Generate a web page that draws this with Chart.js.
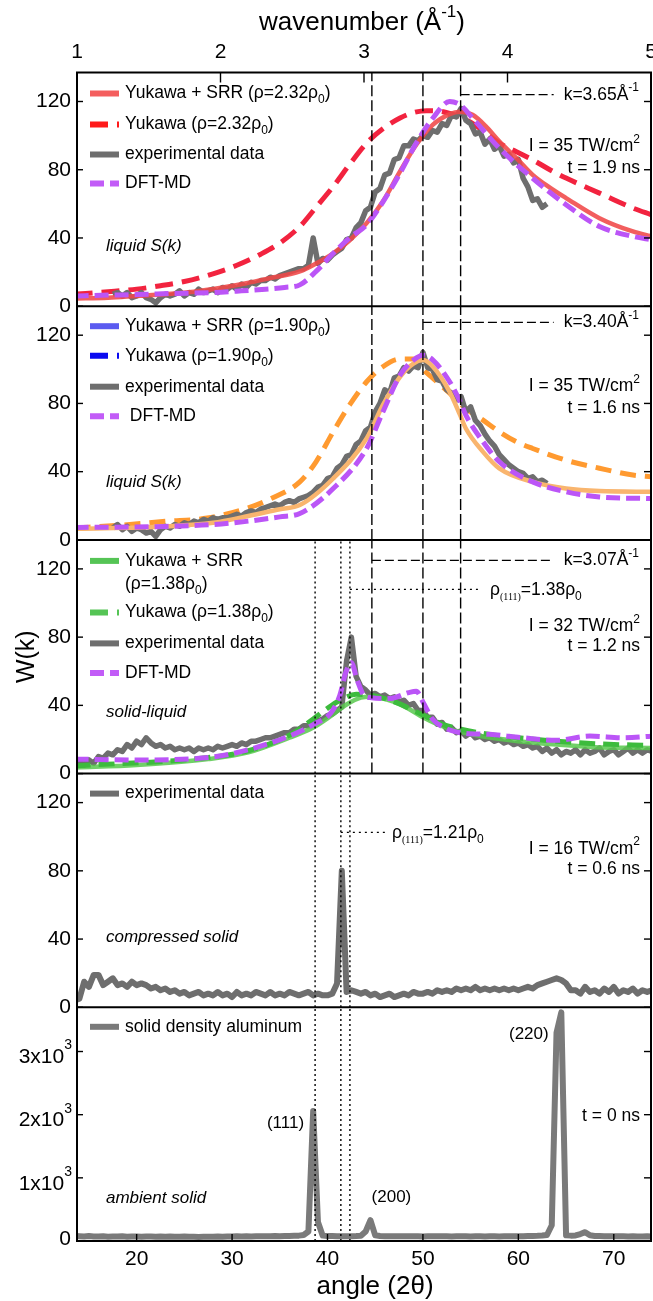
<!DOCTYPE html>
<html>
<head>
<meta charset="utf-8">
<script src="https://cdn.jsdelivr.net/npm/chart.js@4.4.1/dist/chart.umd.min.js"></script>
<style>
  html, body { margin: 0; padding: 0; background: #fff; }
  #chart { display: block; width: 653px; height: 1301px; }
</style>
</head>
<body>
<canvas id="chart" width="653" height="1301"></canvas>
<script>
// Axis ticks
const angleTicks = [20, 30, 40, 50, 60, 70];
const kTicks = [1, 2, 3, 4, 5];
const wTicks = [0, 40, 80, 120];
const ambTicks = [0, 1000, 2000, 3000];
const ambTickMant = ['0', '1x10', '2x10', '3x10'];

// Reference lines (in angle 2θ)
const kLineAngles = [44.65, 50.0, 53.95];      // k = 3.07, 3.40, 3.65
const kLineLabels = ['3.07', '3.40', '3.65'];
const braggAngles = [38.7, 41.4, 42.35];
const kMarkW = [125, 127.5, 124];               // panel 3, 2, 1 marker heights
const kMarkEnd = 63.7;
const rhoMarkStart = [42.35, 41.4];
const rhoMarkEnd = [56.1, 46.1];
const rhoMarkW = [108, 102.6];

// Common angle grid of the measured curves
const gridAngle = [
  13.5, 14, 14.5, 15, 15.5, 16, 16.5, 17, 17.5, 18,
  18.5, 19, 19.5, 20, 20.5, 21, 21.5, 22, 22.5, 23,
  23.5, 24, 24.5, 25, 25.5, 26, 26.5, 27, 27.5, 28,
  28.5, 29, 29.5, 30, 30.5, 31, 31.5, 32, 32.5, 33,
  33.5, 34, 34.5, 35, 35.5, 36, 36.5, 37, 37.5, 38,
  38.5, 39, 39.5, 40, 40.5, 41, 41.5, 42, 42.5, 43,
  43.5, 44, 44.5, 45, 45.5, 46, 46.5, 47, 47.5, 48,
  48.5, 49, 49.5, 50, 50.5, 51, 51.5, 52, 52.5, 53,
  53.5, 54, 54.5, 55, 55.5, 56, 56.5, 57, 57.5, 58,
  58.5, 59, 59.5, 60, 60.5, 61, 61.5, 62, 62.5, 63,
  63.5, 64, 64.5, 65, 65.5, 66, 66.5, 67, 67.5, 68,
  68.5, 69, 69.5, 70, 70.5, 71, 71.5, 72, 72.5, 73,
  73.5, 74
];

// Panel 1: I = 35 TW/cm2, t = 1.9 ns
const p1Exp = [
  null, null, null, null, null, null, null, null, 7, 8,
  6, 8, 5, 6, 8, 5, 4, 2, 5, 7,
  6, 7, 9, 6, 8, 7, 10, 8, 9, 10,
  8, 11, 10, 12, 10, 13, 11, 14, 13, 15,
  15, 17, 16, 18, 19, 20, 21, 22, 22, 24,
  40, 25, 28, 27, 30, 32, 34, 39, 40, 46,
  49, 56, 58, 67, 69, 77, 78, 86, 87, 94,
  94, 98, 97, 100, 99, 103, 102, 107, 106, 112,
  111, 116, 109, 107, 101, 102, 95, 98, 92, 94,
  88, 89, 84, 86, 75, 70, 62, 63, 58, 60,
  null, null, null, null, null, null, null, null, null, null,
  null, null, null, null, null, null, null, null, null, null,
  null, null
];
const p1YukAngle = [13.5, 17, 20, 22.5, 25, 28, 30.5, 33, 35, 37.1, 38.8, 40.6, 42.3, 44.1, 45.8, 47.6, 49, 50.4, 51.5, 52.8, 54.5, 56.3, 58, 59.8, 61.5, 63.3, 65, 68.5, 72, 74];
const p1YukW = [7, 8.5, 10, 12, 14.5, 19, 24, 30.5, 37, 46.7, 58, 70.2, 83, 95.6, 104, 110.3, 113.5, 114.6, 114.5, 113, 109.3, 103, 95.6, 90.5, 85.8, 80, 75.1, 66.3, 57.5, 53.5];
const p1SrrAngle = [13.5, 17, 20, 23, 26, 29, 31.5, 34, 37.1, 38.8, 40.6, 42.3, 44.1, 45.8, 47.6, 49.3, 51.05, 52.8, 53.9, 55.2, 56.6, 58, 59.8, 61.5, 63.3, 65, 68.5, 72, 74];
const p1SrrW = [4.5, 5, 6, 7, 8.5, 11, 13.5, 16.5, 20.4, 25, 31, 38.5, 48.7, 61.4, 79, 94.6, 106.4, 112.6, 114, 112.2, 105.4, 96.6, 86.8, 77, 69.5, 63.4, 51.6, 43.8, 40.9];
const p1DftAngle = [13.5, 17, 20, 24, 28, 31, 33.5, 35.5, 37.1, 38.8, 40.6, 42.3, 44.1, 45.8, 47.6, 49.3, 51.05, 52.8, 53.9, 55.2, 58, 61.5, 65, 68.5, 72, 74];
const p1DftW = [6, 6.5, 6.8, 7.5, 8, 9, 10, 11, 12.5, 20.4, 31, 40, 47.7, 61, 78, 95.6, 110.3, 120, 118, 110.3, 92.7, 75, 59.5, 46.7, 40.9, 38.9];

// Panel 2: I = 35 TW/cm2, t = 1.6 ns
const p2Exp = [
  null, null, null, null, null, null, null, null, 7, 9,
  6, 8, 5, 7, 6, 4, 5, 2, 6, 8,
  7, 9, 8, 10, 9, 11, 10, 12, 11, 13,
  12, 13, 13, 14, 15, 14, 16, 17, 16, 18,
  19, 20, 21, 20, 22, 23, 22, 24, 25, 26,
  28, 31, 32, 36, 37, 42, 44, 49, 50, 56,
  58, 64, 66, 75, 80, 88, 86, 95, 96, 101,
  99, 102, 101, 110, 101, 100, 94, 93, 88, 86,
  82, 84, 75, 78, 70, 67, 62, 58, 55, 50,
  47, 44, 42, 40, 39, 36, 37, 34, 35, 33,
  null, null, null, null, null, null, null, null, null, null,
  null, null, null, null, null, null, null, null, null, null,
  null, null
];
const p2YukAngle = [13.5, 18, 23, 27.4, 31.7, 34, 37.1, 38.8, 40.6, 42.3, 44.1, 45.8, 47.6, 49, 50, 51, 52.8, 54.5, 56.3, 58, 59.8, 61.5, 65, 68.5, 72, 74];
const p2YukW = [7, 8.5, 10.9, 12.8, 18.8, 24, 34, 45.8, 63.4, 79, 92.7, 101.5, 106, 106, 100, 95, 86, 77, 70.2, 63.4, 57.5, 53.6, 46.7, 42, 38, 37];
const p2SrrAngle = [13.5, 23, 28, 31.7, 35, 37.1, 40.6, 44.1, 45.8, 47.6, 49, 50, 51.05, 52.8, 53.9, 54.5, 56.3, 58, 61.5, 65, 68.5, 74];
const p2SrrW = [6.5, 7.9, 10, 14, 18, 20.4, 36, 59.5, 79, 95.6, 103.4, 105.4, 101.5, 86.8, 73.1, 65.3, 51.6, 41.9, 34, 30.1, 28.6, 28.2];
const p2DftAngle = [13.5, 23, 28, 31.7, 35, 37.1, 40.6, 44.1, 45.8, 47.6, 49, 50, 51.05, 52.8, 53.9, 54.5, 56.3, 58, 61.5, 65, 68.5, 74];
const p2DftW = [7.3, 7.9, 9, 11, 13.5, 15.5, 30.1, 53.6, 75, 96.6, 105.4, 108.3, 105.4, 92.7, 81, 73.1, 57.5, 45.8, 34, 28.2, 25.2, 24.2];

// Panel 3: I = 32 TW/cm2, t = 1.2 ns
const p3Exp = [
  6, 7, 5, 8, 6, 10, 9, 12, 11, 14,
  13, 17, 15, 19, 17, 21, 18, 16, 17, 15,
  16, 14, 15, 14, 15, 13, 15, 14, 15, 14,
  16, 15, 16, 17, 16, 18, 17, 19, 19, 20,
  21, 21, 22, 23, 24, 24, 26, 26, 28, 28,
  30, 31, 32, 34, 35, 37, 39, 66, 80, 57,
  51, 49, 46, 47, 45, 46, 44, 45, 42, 43,
  40, 41, 37, 37, 33, 33, 29, 30, 26, 27,
  24, 25, 22, 24, 21, 22, 20, 21, 19, 20,
  18, 19, 17, 18, 16, 17, 15, 16, 13, 15,
  12, 14, 11, 13, 12, 14, 11, 14, 12, 13,
  15, 11, 13, 14, 11, 13, 15, 12, 14, 12,
  14, 13
];
const p3SrrAngle = [13.5, 20, 27.5, 31.7, 36, 38.5, 40.4, 42, 43.5, 44.5, 45.5, 47, 48.5, 50, 51.5, 53.5, 56, 60, 64, 68, 74];
const p3SrrW = [3.5, 5, 8.5, 12.4, 21, 27, 34, 40.5, 44.5, 45, 44.5, 42, 38, 33, 29, 25, 22, 19, 17, 15.5, 15];
const p3YukAngle = [13.5, 27.5, 31.7, 36, 38.5, 40.3, 41.5, 43, 44.5, 46, 47.5, 49, 50.5, 52, 54, 57, 60, 64, 68, 74];
const p3YukW = [4.5, 9.4, 13.4, 22.5, 32, 39.5, 43.5, 46.5, 46, 44, 41, 37, 33, 29, 26, 23, 21, 19, 17.5, 16.5];
const p3DftAngle = [13.5, 20, 27.5, 31.7, 36, 38.6, 40.4, 41.3, 41.9, 42.5, 43.1, 43.8, 44.6, 46.5, 48.5, 49.3, 50, 51, 52.2, 53.9, 57, 60.5, 64, 67.5, 71, 74];
const p3DftW = [8.5, 8, 9.4, 14, 22, 29, 36, 46, 59, 65, 55, 46, 44.5, 44, 47.5, 48.3, 42, 32, 27, 24, 23, 21, 19.5, 22, 21, 22];

// Panel 4: I = 16 TW/cm2, t = 0.6 ns
const p4Exp = [
  4, 5, 15, 12, 19, 19, 13, 15, 17, 13,
  14, 12, 15, 13, 14, 13, 11, 12, 10, 11,
  9, 10, 8, 9, 7, 8, 9, 7, 8, 7,
  9, 7, 8, 6, 9, 7, 8, 7, 9, 8,
  7, 9, 7, 8, 7, 9, 8, 7, 8, 9,
  7, 8, 7, 7, 8, 14, 80, 9, 10, 9,
  8, 9, 7, 8, 6, 7, 8, 6, 7, 8,
  7, 9, 8, 8, 9, 8, 10, 9, 10, 9,
  11, 10, 11, 10, 12, 10, 11, 10, 11, 10,
  11, 10, 11, 10, 11, 12, 11, 13, 14, 15,
  16, 17, 16, 14, 10, 10, 8, 12, 9, 10,
  8, 11, 9, 12, 8, 10, 9, 11, 8, 10,
  9, 10
];

// Panel 5: ambient solid, t = 0 ns
const p5Amb = [
  80, 75, 70, 78, 72, 70, 74, 68, 72, 70,
  74, 69, 72, 70, 68, 72, 70, 66, 70, 68,
  70, 66, 68, 70, 66, 68, 65, 68, 66, 68,
  70, 68, 72, 70, 74, 72, 75, 73, 76, 74,
  76, 75, 78, 76, 78, 80, 82, 85, 95, 150,
  2060, 300, 85, 80, 78, 76, 75, 74, 76, 78,
  82, 150, 330, 90, 78, 76, 75, 74, 76, 75,
  74, 76, 75, 73, 75, 74, 76, 74, 75, 73,
  74, 76, 74, 73, 75, 74, 72, 74, 75, 73,
  74, 75, 76, 75, 77, 78, 80, 82, 86, 95,
  250, 3300, 3620, 90, 85, 88, 110, 140, 90, 80,
  78, 76, 75, 74, 76, 74, 72, 74, 73, 72,
  74, 72
];

const FAMILY = "'Liberation Sans', Arial, Helvetica, sans-serif";
const SERIF = "'Liberation Serif', 'Times New Roman', serif";
const W_MAX = 137;
const AMB_MAX = 3700;

const col = {
  gray: '#6e6e6e', grayAmb: '#7a7a7a',
  salmon: 'rgba(240,72,72,0.88)', red: '#F2233F', purple: '#BB55F7',
  orangeD: '#FF9A30', orangeS: '#F9B56E',
  greenS: 'rgba(88,200,78,0.85)', greenD: '#3DBB3D'
};

function pts(xs, ys) {
  return xs.map((x, i) => ({x: x, y: ys[i]}));
}
function line(yAxisID, data, color, width, dash, order, smooth) {
  return {
    yAxisID: yAxisID, data: data, borderColor: color, borderWidth: width,
    borderDash: dash || [], pointRadius: 0, fill: false, order: order,
    cubicInterpolationMode: smooth ? 'monotone' : 'default', tension: 0,
    borderJoinStyle: 'round', spanGaps: false
  };
}
function vlines(angles, top) {
  const out = [];
  angles.forEach(a => { out.push({x: a, y: 0}, {x: a, y: top}, {x: a, y: null}); });
  return out;
}

const datasets = [
  // panel 1
  line('y1', pts(p1DftAngle, p1DftW), col.purple, 5, [14, 6], 1, true),
  line('y1', pts(p1SrrAngle, p1SrrW), col.salmon, 4.5, [], 2, true),
  line('y1', pts(gridAngle, p1Exp), col.gray, 5.5, [], 3, false),
  line('y1', pts(p1YukAngle, p1YukW), col.red, 5, [18, 9], 4, true),
  line('y1', vlines(kLineAngles, W_MAX), '#000', 1.4, [11, 4], 0, false),
  line('y1', [{x: kLineAngles[2], y: kMarkW[2]}, {x: kMarkEnd, y: kMarkW[2]}], '#000', 1.3, [9, 4], 0, false),
  // panel 2
  line('y2', pts(p2DftAngle, p2DftW), col.purple, 5, [14, 6], 1, true),
  line('y2', pts(p2SrrAngle, p2SrrW), col.orangeS, 4.5, [], 2, true),
  line('y2', pts(gridAngle, p2Exp), col.gray, 5.5, [], 3, false),
  line('y2', pts(p2YukAngle, p2YukW), col.orangeD, 5, [16, 9], 4, true),
  line('y2', vlines(kLineAngles, W_MAX), '#000', 1.4, [11, 4], 0, false),
  line('y2', [{x: kLineAngles[1], y: kMarkW[1]}, {x: kMarkEnd, y: kMarkW[1]}], '#000', 1.3, [9, 4], 0, false),
  // panel 3
  line('y3', pts(p3DftAngle, p3DftW), col.purple, 5, [14, 6], 1, true),
  line('y3', pts(p3YukAngle, p3YukW), col.greenD, 5, [16, 8], 2, true),
  line('y3', pts(p3SrrAngle, p3SrrW), col.greenS, 4.5, [], 3, true),
  line('y3', pts(gridAngle, p3Exp), col.gray, 5.5, [], 4, false),
  line('y3', vlines(kLineAngles, W_MAX), '#000', 1.4, [11, 4], 0, false),
  line('y3', vlines(braggAngles, W_MAX), '#000', 1.4, [2, 3], 0, false),
  line('y3', [{x: kLineAngles[0], y: kMarkW[0]}, {x: kMarkEnd, y: kMarkW[0]}], '#000', 1.3, [9, 4], 0, false),
  line('y3', [{x: rhoMarkStart[0], y: rhoMarkW[0]}, {x: rhoMarkEnd[0], y: rhoMarkW[0]}], '#000', 1.3, [2, 4], 0, false),
  // panel 4
  line('y4', pts(gridAngle, p4Exp), col.gray, 6, [], 2, false),
  line('y4', vlines(braggAngles, W_MAX), '#000', 1.4, [2, 3], 0, false),
  line('y4', [{x: rhoMarkStart[1], y: rhoMarkW[1]}, {x: rhoMarkEnd[1], y: rhoMarkW[1]}], '#000', 1.3, [2, 4], 0, false),
  // panel 5
  line('y5', pts(gridAngle, p5Amb), col.grayAmb, 6, [], 2, false),
  line('y5', vlines(braggAngles, AMB_MAX), '#000', 1.4, [2, 3], 0, false)
];

const panelIds = ['y1', 'y2', 'y3', 'y4', 'y5'];
const tickFont = {family: FAMILY, size: 21};

function yScale(id, max, ticks, weight, showLabels) {
  return {
    type: 'linear', position: 'left', stack: 'panels', stackWeight: 1, weight: weight,
    min: 0, max: max,
    afterBuildTicks: s => { s.ticks = ticks.map(v => ({value: v})); },
    afterFit: s => { s.width = 77; s.paddingTop = 0; s.paddingBottom = 0; },
    grid: {display: false, drawTicks: false},
    border: {display: false},
    ticks: {display: showLabels, font: tickFont, color: '#000', padding: 6, autoSkip: false}
  };
}

// text helper with sub/superscripts
function rich(ctx, parts, x, y, opts) {
  opts = opts || {};
  const size = opts.size || 17.5;
  const style = opts.italic ? 'italic ' : '';
  const supSize = opts.supSize || Math.round(size * 0.66);
  const supDy = opts.supDy || -size * 0.4;
  const segs = parts.map(p => Array.isArray(p) ? {t: p[0], k: p[1]} : {t: p, k: ''});
  const fontOf = k => k === 'idx' ? '10px ' + SERIF : style + (k === 'sup' ? supSize : k ? Math.round(size * 0.66) : size) + 'px ' + FAMILY;
  let total = 0;
  segs.forEach(s => { ctx.font = fontOf(s.k); s.w = ctx.measureText(s.t).width; total += s.w; });
  let cx = opts.align === 'right' ? x - total : opts.align === 'center' ? x - total / 2 : x;
  ctx.textAlign = 'left';
  ctx.textBaseline = 'middle';
  ctx.fillStyle = '#000';
  segs.forEach(s => {
    ctx.font = fontOf(s.k);
    const dy = s.k === 'sub' ? size * 0.38 : s.k === 'idx' ? size * 0.4 : s.k === 'sup' ? supDy : 0;
    ctx.fillText(s.t, cx, y + dy);
    cx += s.w;
  });
}

const legends = {
  y1: [
    {dy: 21, color: '#F45E5E', dash: [], text: ['Yukawa + SRR (ρ=2.32ρ', ['0', 'sub'], ')']},
    {dy: 52, color: '#FF1A1A', dash: [18, 9], text: ['Yukawa (ρ=2.32ρ', ['0', 'sub'], ')']},
    {dy: 82, color: col.gray, dash: [], text: ['experimental data']},
    {dy: 111, color: '#C25CF7', dash: [14, 6], text: ['DFT-MD']}
  ],
  y2: [
    {dy: 20, color: '#5B5BF0', dash: [], text: ['Yukawa + SRR (ρ=1.90ρ', ['0', 'sub'], ')']},
    {dy: 49.5, color: '#0A0AF0', dash: [18, 9], text: ['Yukawa (ρ=1.90ρ', ['0', 'sub'], ')']},
    {dy: 80.5, color: col.gray, dash: [], text: ['experimental data']},
    {dy: 110, color: '#C25CF7', dash: [14, 6], text: [' DFT-MD']}
  ],
  y3: [
    {dy: 21, color: '#55C455', dash: [], text: ['Yukawa + SRR'], text2: ['(ρ=1.38ρ', ['0', 'sub'], ')']},
    {dy: 72.5, color: '#55C455', dash: [18, 9], text: ['Yukawa (ρ=1.38ρ', ['0', 'sub'], ')']},
    {dy: 103.5, color: col.gray, dash: [], text: ['experimental data']},
    {dy: 133, color: '#C25CF7', dash: [14, 6], text: ['DFT-MD']}
  ],
  y4: [
    {dy: 20, color: col.gray, dash: [], text: ['experimental data']}
  ],
  y5: [
    {dy: 19.5, color: col.grayAmb, dash: [], text: ['solid density aluminum']}
  ]
};

const notes = {
  y1: {lines: [[['I = 35 TW/cm', ['2', 'sup']], 74], [['t = 1.9 ns'], 95.5]], tag: 'liquid S(k)', tagDy: 174},
  y2: {lines: [[['I = 35 TW/cm', ['2', 'sup']], 80], [['t = 1.6 ns'], 101.5]], tag: 'liquid S(k)', tagDy: 176.5},
  y3: {lines: [[['I = 32 TW/cm', ['2', 'sup']], 86.5], [['t = 1.2 ns'], 106]], tag: 'solid-liquid', tagDy: 172.5},
  y4: {lines: [[['I = 16 TW/cm', ['2', 'sup']], 75.5], [['t = 0.6 ns'], 95.5]], tag: 'compressed solid', tagDy: 164},
  y5: {lines: [[['t = 0 ns'], 108.5]], tag: 'ambient solid', tagDy: 190.5}
};

const decor = {
  id: 'decor',
  afterDatasetsDraw(chart) {
    const ctx = chart.ctx;
    const a = chart.chartArea;
    const sc = chart.scales;
    const seg = (x0, y0, x1, y1) => { ctx.beginPath(); ctx.moveTo(x0, y0); ctx.lineTo(x1, y1); ctx.stroke(); };
    ctx.save();
    ctx.strokeStyle = '#000';
    ctx.setLineDash([]);
    ctx.lineWidth = 1.4;
    panelIds.forEach(id => {
      const s = sc[id];
      s.ticks.forEach(t => {
        const py = s.getPixelForValue(t.value);
        seg(a.left, py, a.left + 6, py);
        seg(a.right - 7, py, a.right, py);
      });
    });
    sc.x.ticks.forEach(t => { const px = sc.x.getPixelForValue(t.value); seg(px, a.bottom, px, a.bottom - 7); });
    sc.x2.ticks.forEach(t => { const px = sc.x2.getPixelForValue(t.value); seg(px, a.top, px, a.top + 10); });

    ctx.lineWidth = 2;
    ctx.strokeRect(a.left, a.top, a.right - a.left, a.bottom - a.top);
    panelIds.slice(0, 4).forEach(id => seg(a.left, sc[id].bottom, a.right, sc[id].bottom));

    // power-of-ten labels of the ambient panel
    ambTicks.forEach((v, i) => {
      const py = sc.y5.getPixelForValue(v);
      if (v === 0) {
        rich(ctx, ['0'], a.left - 6, py - 2, {align: 'right', size: 21});
      } else {
        rich(ctx, [ambTickMant[i], ['3', 'sup']], a.left - 5, py + 6, {align: 'right', size: 21, supSize: 14, supDy: -12});
      }
    });

    // legends
    panelIds.forEach(id => {
      const top = sc[id].top;
      legends[id].forEach(row => {
        ctx.save();
        ctx.strokeStyle = row.color;
        ctx.lineWidth = 6;
        ctx.lineCap = 'butt';
        ctx.setLineDash(row.dash);
        seg(90, top + row.dy, 119, top + row.dy);
        ctx.restore();
        rich(ctx, row.text, 125, top + row.dy);
        if (row.text2) rich(ctx, row.text2, 125, top + row.dy + 23.5);
      });
      const n = notes[id];
      n.lines.forEach(l => rich(ctx, l[0], a.right - 11, top + l[1], {align: 'right'}));
      rich(ctx, [n.tag], 106, top + n.tagDy, {italic: true, size: 17});
    });

    // k labels
    const kPanels = ['y3', 'y2', 'y1'];
    kPanels.forEach((id, i) => {
      const py = sc[id].getPixelForValue(kMarkW[i]);
      rich(ctx, ['k=' + kLineLabels[i] + 'Å', ['-1', 'sup']], a.right - 12, py, {align: 'right'});
    });
    // density labels
    rich(ctx, ['ρ', ['(111)', 'idx'], '=1.38ρ', ['0', 'sub']], 490, sc.y3.getPixelForValue(rhoMarkW[0]) + 1);
    rich(ctx, ['ρ', ['(111)', 'idx'], '=1.21ρ', ['0', 'sub']], 392, sc.y4.getPixelForValue(rhoMarkW[1]) + 1);
    // reflection labels
    rich(ctx, ['(111)'], sc.x.getPixelForValue(35.6), sc.y5.getPixelForValue(1864), {align: 'center', size: 17});
    rich(ctx, ['(200)'], sc.x.getPixelForValue(46.7), sc.y5.getPixelForValue(690), {align: 'center', size: 17});
    rich(ctx, ['(220)'], sc.x.getPixelForValue(61.1), sc.y5.getPixelForValue(3270), {align: 'center', size: 17});

    // axis titles
    rich(ctx, ['wavenumber (Å', ['-1', 'sup'], ')'], 362, 23, {align: 'center', size: 26});
    rich(ctx, ['angle (2θ)'], 375, 1287, {align: 'center', size: 26});
    ctx.save();
    ctx.translate(27, (sc.y3.top + sc.y3.bottom) / 2);
    ctx.rotate(-Math.PI / 2);
    rich(ctx, ['W(k)'], 0, 0, {align: 'center', size: 25});
    ctx.restore();
    ctx.restore();
  }
};

Chart.defaults.font.family = FAMILY;

new Chart(document.getElementById('chart'), {
  type: 'line',
  data: {datasets: datasets},
  options: {
    responsive: false,
    animation: false,
    devicePixelRatio: 1,
    layout: {padding: {left: 0, right: 2, top: 0, bottom: 0}},
    plugins: {legend: {display: false}, tooltip: {enabled: false}},
    scales: {
      x: {
        type: 'linear', position: 'bottom', min: 13.75, max: 73.9,
        afterBuildTicks: s => { s.ticks = angleTicks.map(v => ({value: v})); },
        afterFit: s => { s.height = 60; s.paddingLeft = 0; s.paddingRight = 0; },
        grid: {display: false, drawTicks: false},
        border: {display: false},
        ticks: {font: tickFont, color: '#000', padding: 6, maxRotation: 0, autoSkip: false}
      },
      x2: {
        type: 'linear', position: 'top', min: 1, max: 5,
        afterBuildTicks: s => { s.ticks = kTicks.map(v => ({value: v})); },
        afterFit: s => { s.height = 72.5; s.paddingLeft = 0; s.paddingRight = 0; },
        grid: {display: false, drawTicks: false},
        border: {display: false},
        ticks: {font: tickFont, color: '#000', padding: 8, maxRotation: 0, autoSkip: false}
      },
      y1: yScale('y1', W_MAX, wTicks, 5, true),
      y2: yScale('y2', W_MAX, wTicks, 4, true),
      y3: yScale('y3', W_MAX, wTicks, 3, true),
      y4: yScale('y4', W_MAX, wTicks, 2, true),
      y5: yScale('y5', AMB_MAX, ambTicks, 1, false)
    }
  },
  plugins: [decor]
});
</script>
</body>
</html>
